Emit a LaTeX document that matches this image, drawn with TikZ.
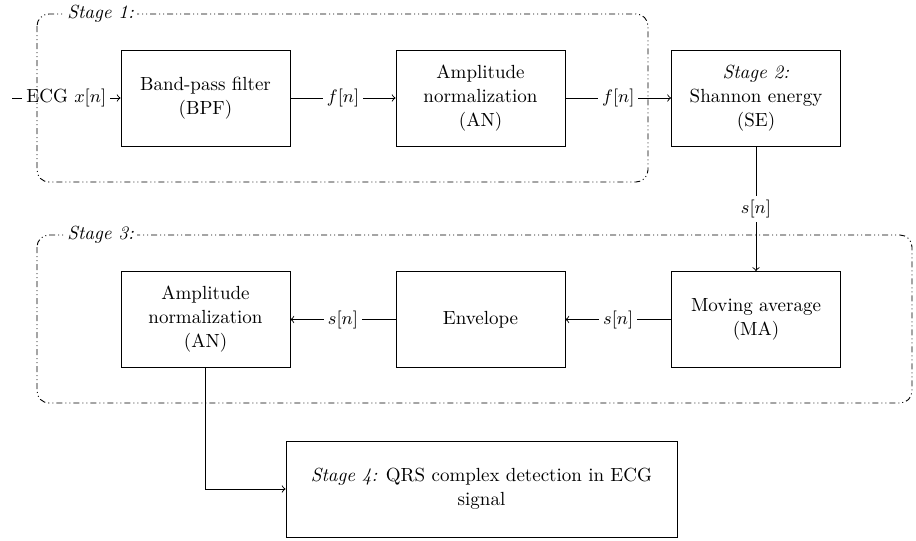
\documentclass[tikz,border=0pt]{standalone}
\usepackage{tikz}

\begin{document}
\begin{tikzpicture}
[x=0.5pt,y=-0.5pt,%
  blockNode/.style={draw,line width=0.45pt,minimum width=84.5pt,minimum height=48pt,
    inner sep=0pt,align=center},%
  lineDecorate/.style={->,line width=0.45pt},%
  signalLabel/.style={fill=white,inner sep=2pt},%
  stageFrame/.style={line width=0.45pt,rounded corners=6pt,
    dash pattern=on 3pt off 1.5pt on 0.5pt off 1.5pt on 0.5pt off 1.5pt},%
  stageLabel/.style={fill=white,inner sep=1.5pt,anchor=west,font=\itshape}]
\fontsize{9.5}{12}\selectfont
\useasboundingbox (0,0) rectangle (916,541);
% first row
\node[blockNode](bpf) at (205.5,98) {Band-pass filter\\(BPF)};
\node[blockNode](anA) at (480.5,98) {Amplitude\\normalization\\(AN)};
\node[blockNode](se) at (756,98) {\textit{Stage 2:}\\Shannon energy\\(SE)};
% second row
\node[blockNode](anB) at (205.5,319.5) {Amplitude\\normalization\\(AN)};
\node[blockNode](env) at (480.5,319.5) {Envelope};
\node[blockNode](ma) at (756,319.5) {Moving average\\(MA)};
% last stage
\node[blockNode,minimum width=195.5pt](qrs) at (481.5,489)
  {\textit{Stage 4:} QRS complex detection in ECG\\signal};
\coordinate (ecgIn) at (12,98);
\path
\foreach \startNode/\endNode/\signalText in {
  ecgIn/bpf/{ECG $x[n]$}, bpf/anA/{$f[n]$}, anA/se/{$f[n]$},
  se/ma/{$s[n]$}, ma/env/{$s[n]$}, env/anB/{$s[n]$}}
{
  (\startNode) edge[lineDecorate] node[signalLabel] {\signalText} (\endNode)
};
\draw[lineDecorate] (anB) |- (qrs);
% stage frames
\draw[stageFrame] (37,14) rectangle (648,182);
\draw[stageFrame] (37,235) rectangle (912,403);
\node[stageLabel](stageOne) at (64,14) {Stage 1:};
\node[stageLabel](stageThree) at (64,235) {Stage 3:};
\end{tikzpicture}
\end{document}
